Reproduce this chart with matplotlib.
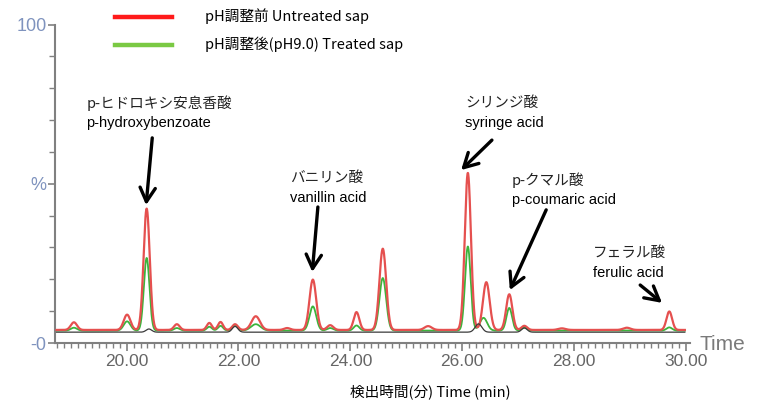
import numpy as np
import matplotlib
matplotlib.use('Agg')
import matplotlib.pyplot as plt
from matplotlib.lines import Line2D
from matplotlib.ticker import MultipleLocator

# ======================================
# Peak tables
# (retention time [min], height above baseline [%], width sigma [min])
# ======================================

red_times   = [19.06, 20.01, 20.36, 20.90, 21.48, 21.68, 21.94, 22.31, 22.87, 23.33,
               23.64, 24.11, 24.58, 25.39, 26.10, 26.43, 26.84, 27.11, 27.78, 28.94, 29.70]
red_heights = [2.4, 4.8, 38.1, 1.8, 2.2, 2.5, 1.8, 4.3, 0.6, 15.8,
               1.5, 5.6, 25.5, 1.2, 49.3, 15.0, 11.2, 1.3, 0.5, 0.7, 5.8]
red_widths  = [0.055, 0.06, 0.055, 0.05, 0.045, 0.045, 0.05, 0.075, 0.055, 0.06,
               0.055, 0.05, 0.06, 0.065, 0.055, 0.06, 0.055, 0.05, 0.065, 0.065, 0.05]

green_times   = [19.06, 20.01, 20.36, 20.90, 21.48, 21.68, 21.94, 22.31, 23.33,
                 23.64, 24.11, 24.58, 26.10, 26.38, 26.84, 27.11, 29.70]
green_heights = [0.9, 2.9, 22.8, 0.8, 1.2, 1.5, 1.8, 2.0, 7.6,
                 0.8, 1.6, 16.5, 26.4, 4.0, 7.1, 1.0, 1.0]
green_widths  = [0.055, 0.06, 0.05, 0.05, 0.045, 0.045, 0.05, 0.085, 0.06,
                 0.055, 0.05, 0.06, 0.05, 0.065, 0.05, 0.05, 0.05]

black_times   = [20.40, 21.94, 26.29, 27.11]
black_heights = [1.0, 1.8, 2.6, 1.3]
black_widths  = [0.05, 0.05, 0.06, 0.05]

red_base, green_base, black_base = 4.1, 3.9, 3.4

xtick_vals = [20, 22, 24, 26, 28, 30]
xtick_labels = ['20.00', '22.00', '24.00', '26.00', '28.00', '30.00']
ytick_vals = [0, 50, 100]
ytick_labels = ['-0', '%', '100']

legend_labels = ['pH調整前 Untreated sap', 'pH調整後(pH9.0) Treated sap']

# compound labels: japanese, english, text position, arrow tail, arrow tip
comp_jp = ['p-ヒドロキシ安息香酸', 'バニリン酸', 'シリンジ酸', 'p-クマル酸', 'フェラル酸']
comp_en = ['p-hydroxybenzoate', 'vanillin acid', 'syringe acid', 'p-coumaric acid', 'ferulic acid']
comp_tx = [19.28, 22.92, 26.05, 26.89, 28.34]
comp_ty = [75.4, 51.8, 75.4, 51.2, 28.3]
arrow_from = [(20.46, 64.4), (23.42, 42.7), (26.53, 63.7), (27.50, 41.8), (29.18, 18.2)]
arrow_to   = [(20.35, 43.3), (23.32, 22.3), (25.98, 54.3), (26.85, 16.6), (29.57, 12.6)]

# ======================================
# Build traces
# ======================================

t = np.arange(18.75, 29.98, 0.004)


def trace(base, times, heights, widths):
    y = np.full_like(t, base)
    for c, h, s in zip(times, heights, widths):
        y += h * np.exp(-0.5 * ((t - c) / s) ** 2)
    return y


red = trace(red_base, red_times, red_heights, red_widths)
green = trace(green_base, green_times, green_heights, green_widths)
black = trace(black_base, black_times, black_heights, black_widths)

# ======================================
# Plot
# ======================================

W, H = 764, 404
fig = plt.figure(figsize=(W / 100, H / 100), dpi=100)
ax = fig.add_axes([55 / W, 1 - 343 / H, 635 / W, (343 - 24.5) / H])

ax.plot(t, green, color='#3cb43c', lw=1.3, zorder=2)
ax.plot(t, red, color='#e5504f', lw=1.6, zorder=3)
ax.plot(t, black, color='#3a3a3a', lw=0.9, zorder=4)

ax.set_xlim(18.722, 30.07)
ax.set_ylim(0, 100)

for s in ['top', 'right']:
    ax.spines[s].set_visible(False)
for s in ['left', 'bottom']:
    ax.spines[s].set_color('#808080')
    ax.spines[s].set_linewidth(1.5)

ax.set_xticks(xtick_vals)
ax.set_xticklabels(xtick_labels, fontsize=12.5, color='#666666', family='Liberation Sans')
ax.xaxis.set_minor_locator(MultipleLocator(0.125))
ax.tick_params(axis='x', which='major', length=6, width=1.2, color='#808080', pad=2)
ax.tick_params(axis='x', which='minor', length=3.5, width=1, color='#808080')

ax.set_yticks(ytick_vals)
ax.set_yticklabels(ytick_labels, fontsize=13, color='#7f93be', family='Liberation Sans')
ax.yaxis.set_minor_locator(MultipleLocator(10))
ax.tick_params(axis='y', which='major', length=5, width=1.2, color='#808080', pad=1)
ax.tick_params(axis='y', which='minor', length=4, width=1, color='#808080')

fig.text(700 / W, 1 - 345 / H, 'Time', fontsize=15, color='#7a7a7a',
         family='Liberation Sans', va='center', ha='left')

fig.text(430 / W, 1 - 393 / H, '検出時間(分) Time (min)', fontsize=10.5,
         family=['Noto Sans CJK JP', 'DejaVu Sans'], ha='center', va='center')

# legend drawn by hand
leg_colors = ['#ff1a1a', '#7ac943']
leg_y = [17, 45]
for lab, col, y in zip(legend_labels, leg_colors, leg_y):
    fig.add_artist(Line2D([115 / W, 172 / W], [1 - y / H, 1 - y / H],
                          color=col, lw=3.2, transform=fig.transFigure))
    fig.text(205 / W, 1 - (y - 1) / H, lab, fontsize=10.5,
             family=['Noto Sans CJK JP', 'DejaVu Sans'], va='center', ha='left')

# compound labels and arrows
for jp, en, tx, ty, a0, a1 in zip(comp_jp, comp_en, comp_tx, comp_ty, arrow_from, arrow_to):
    ax.text(tx, ty, jp, fontsize=10.5, family=['Noto Sans CJK JP', 'DejaVu Sans'],
            va='center', ha='left', color='#222222')
    ax.text(tx, ty - 6.2, en, fontsize=10.5, family='Liberation Sans',
            va='center', ha='left', color='black')
    ax.annotate('', xy=a1, xytext=a0,
                arrowprops=dict(arrowstyle='->,head_length=1.0,head_width=0.55',
                                lw=2.4, color='black', shrinkA=0, shrinkB=0))

fig.savefig('out.png', dpi=100)
